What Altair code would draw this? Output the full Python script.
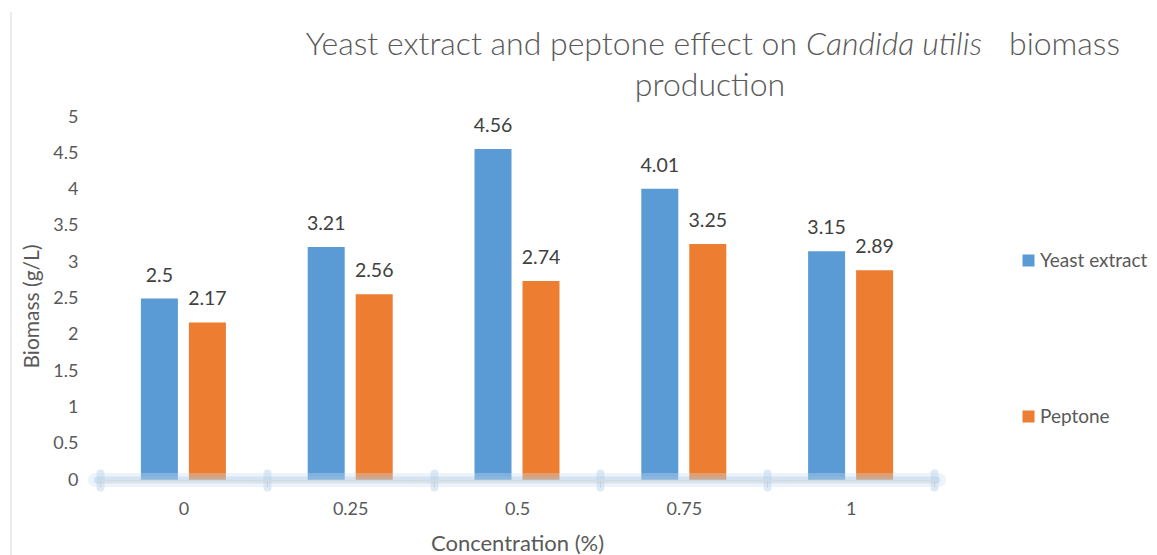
import altair as alt
import pandas as pd

concentrations = ["0", "0.25", "0.5", "0.75", "1"]
yeast_extract = [2.5, 3.21, 4.56, 4.01, 3.15]
peptone = [2.17, 2.56, 2.74, 3.25, 2.89]
series_names = ["Yeast extract", "Peptone"]
y_ticks = [0, 0.5, 1, 1.5, 2, 2.5, 3, 3.5, 4, 4.5, 5]
title_a = "Yeast extract and peptone effect on"
title_b = "Candida utilis"
title_c = "biomass"
title_2 = "production"
x_title = "Concentration (%)"
y_title = "Biomass (g/L)"

rows = []
for c, a, b in zip(concentrations, yeast_extract, peptone):
    rows.append({"conc": c, "series": series_names[0], "value": a})
    rows.append({"conc": c, "series": series_names[1], "value": b})
df = pd.DataFrame(rows)
dummy = pd.DataFrame({"k": [0]})

W, H = 834, 363
FONT = "Lato"
GREY = "#595959"

xscale = alt.Scale(domain=concentrations, paddingInner=0, paddingOuter=0)
offscale = alt.Scale(domain=series_names, paddingInner=0.229, paddingOuter=0.852)
yscale = alt.Scale(domain=[0, 5], nice=False)

y_axis = alt.Axis(values=y_ticks, format="~g", title=y_title, domain=False, ticks=False,
                  tickSize=0, grid=False, labelOverlap=False, labelPadding=22,
                  labelFont=FONT, labelFontSize=18,
                  labelColor=GREY, titleFont=FONT, titleFontSize=21, titleColor=GREY,
                  titleFontWeight="normal", titleAngle=270, titleX=-58, titleY=189,
                  titleBaseline="bottom")

# glow ticks (separate axis, drawn first)
glow_ticks = alt.Chart(df).mark_point(opacity=0).encode(
    x=alt.X("conc:N", scale=xscale, sort=concentrations,
            axis=alt.Axis(orient="bottom", title=None, labels=False, domain=False,
                          ticks=True, tickBand="extent", tickColor="#9dc3e6",
                          tickWidth=8, tickSize=14, tickCap="round", tickOpacity=0.35,
                          offset=-7, grid=False)),
    y=alt.Y("value:Q", scale=yscale, axis=y_axis),
)

glow_line_outer = alt.Chart(dummy).mark_rule(
    strokeWidth=14, color="#c9ddf0", opacity=0.35, strokeCap="round"
).encode(x=alt.value(-5), x2=alt.value(W + 5), y=alt.value(H))
glow_line_inner = alt.Chart(dummy).mark_rule(
    strokeWidth=7, color="#9dc3e6", opacity=0.3, strokeCap="round"
).encode(x=alt.value(-3), x2=alt.value(W + 3), y=alt.value(H))

bars = alt.Chart(df).mark_bar().encode(
    x=alt.X("conc:N", scale=xscale, sort=concentrations,
            axis=alt.Axis(orient="bottom", title=x_title, labelAngle=0, domainColor="#d9d9d9",
                          domainWidth=1.5, tickColor="#d0d0d0", tickSize=7, tickBand="extent",
                          labelPadding=13, labelFont=FONT, labelFontSize=18, labelColor=GREY,
                          titleFont=FONT, titleFontSize=22, titleColor=GREY, titleFontWeight="normal",
                          titlePadding=15, grid=False, zindex=1)),
    xOffset=alt.XOffset("series:N", scale=offscale, sort=series_names),
    y=alt.Y("value:Q", scale=yscale, axis=y_axis),
    color=alt.Color("series:N", scale=alt.Scale(domain=series_names, range=["#5B9BD5", "#ED7D31"]),
                    sort=series_names,
                    legend=alt.Legend(title=None, orient="none", legendX=919, legendY=134,
                                      symbolType="square", symbolSize=144, symbolStrokeWidth=0,
                                      labelFont=FONT, labelFontSize=19, labelColor=GREY,
                                      labelOffset=2, rowPadding=136, padding=0, labelLimit=300)),
)

labels = alt.Chart(df).mark_text(
    dy=-17, baseline="alphabetic", font=FONT, fontSize=19.5, color="#404040"
).encode(
    x=alt.X("conc:N", scale=xscale, sort=concentrations, axis=None),
    xOffset=alt.XOffset("series:N", scale=offscale, sort=series_names),
    y=alt.Y("value:Q", scale=yscale, axis=y_axis),
    text=alt.Text("value:Q", format="~g"),
)

tstyle = dict(baseline="alphabetic", font=FONT, fontSize=32, fontWeight=300, color=GREY)
t_a = alt.Chart(dummy).mark_text(text=title_a, align="right", **tstyle).encode(
    x=alt.value(697), y=alt.value(-62))
t_b = alt.Chart(dummy).mark_text(text=title_b, align="center", fontStyle="italic", **tstyle).encode(
    x=alt.value(794), y=alt.value(-62))
t_c = alt.Chart(dummy).mark_text(text=title_c, align="left", **tstyle).encode(
    x=alt.value(909), y=alt.value(-62))
t_2 = alt.Chart(dummy).mark_text(text=title_2, align="center", **tstyle).encode(
    x=alt.value(610), y=alt.value(-21))

border = alt.Chart(dummy).mark_rule(color="#d9d9d9", strokeWidth=1).encode(
    x=alt.value(-89), y=alt.value(-105), y2=alt.value(460))

chart = alt.layer(
    glow_ticks, bars, glow_line_outer, glow_line_inner, labels, t_a, t_b, t_c, t_2, border
).resolve_axis(x="independent").properties(
    width=W, height=H,
    padding={"left": 92, "top": 109, "right": 215, "bottom": 90},
    autosize=alt.AutoSizeParams(type="none"),
    background="white",
).configure_view(stroke=None)

chart.save("out.html", embed_options={"renderer": "svg", "actions": False})
